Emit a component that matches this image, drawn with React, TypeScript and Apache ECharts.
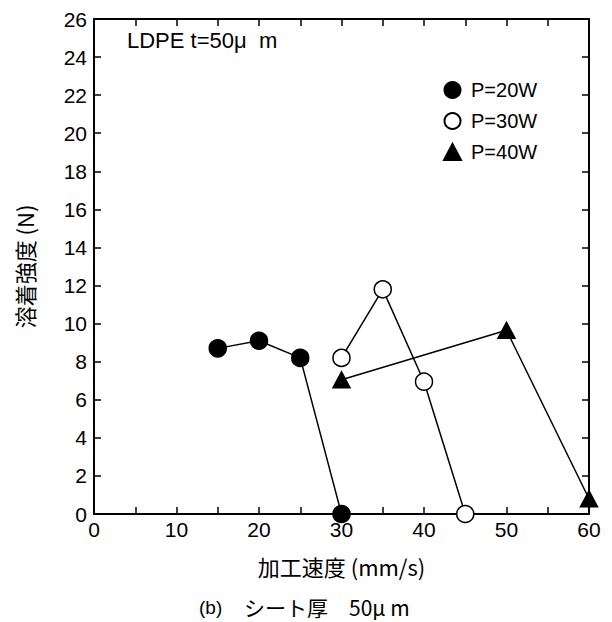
import React, { useEffect, useRef } from "react";
import * as echarts from "echarts";

const p20: [number, number][] = [[15, 8.7], [20, 9.1], [25, 8.2], [30, 0]];
const p30: [number, number][] = [[30, 8.2], [35, 11.8], [40, 6.95], [45, 0]];
const p40: [number, number][] = [[30, 7.05], [50, 9.65], [60, 0.8]];
const seriesNames = ["P=20W", "P=30W", "P=40W"];

const FONT = "'Liberation Sans', Arial, 'Noto Sans CJK JP', sans-serif";
const CJK = "'Noto Sans CJK JP', 'Liberation Sans', sans-serif";

export default function App() {
  const ref = useRef<HTMLDivElement>(null);
  useEffect(() => {
    document.body.style.margin = "0";
    const chart = echarts.init(ref.current!, null, { renderer: "svg" });
    const axisLine = { show: true, onZero: false, lineStyle: { color: "#000", width: 2 } };
    const tickIn = { show: true, inside: true, length: 7, lineStyle: { color: "#000", width: 1.5 } };
    const mk = (name: string, data: [number, number][], symbol: string, fill: string) => ({
      name,
      type: "line",
      data,
      symbol,
      symbolSize: symbol === "triangle" ? [17, 16] : 17,
      lineStyle: { color: "#000", width: 1.5 },
      itemStyle: { color: fill, borderColor: "#000", borderWidth: 1.5 },
      z: 3,
    });
    chart.setOption({
      animation: false,
      textStyle: { fontFamily: FONT },
      grid: { left: 94, right: 23, top: 19, bottom: 108 },
      legend: {
        orient: "vertical",
        left: 443,
        top: 80,
        padding: 0,
        itemGap: 11,
        itemWidth: 17,
        itemHeight: 16,
        textStyle: { fontSize: 20, color: "#000", fontFamily: FONT, padding: [0, 0, 0, 5] },
        data: [
          { name: seriesNames[0], icon: "circle" },
          { name: seriesNames[1], icon: "circle" },
          { name: seriesNames[2], icon: "triangle" },
        ],
      },
      xAxis: [
        {
          type: "value",
          min: 0,
          max: 60,
          interval: 5,
          name: "加工速度 (mm/s)",
          nameLocation: "middle",
          nameGap: 41,
          nameTextStyle: { fontSize: 22, color: "#000", fontFamily: CJK },
          axisLine,
          axisTick: tickIn,
          splitLine: { show: false },
          axisLabel: {
            fontSize: 21,
            color: "#000",
            margin: 5,
            formatter: (v: number) => (v % 10 === 0 ? String(v) : ""),
          },
        },
        {
          type: "value",
          position: "top",
          min: 0,
          max: 60,
          interval: 5,
          axisLine,
          axisTick: tickIn,
          axisLabel: { show: false },
          splitLine: { show: false },
        },
      ],
      yAxis: [
        {
          type: "value",
          min: 0,
          max: 26,
          interval: 2,
          name: "溶着強度 (N)",
          nameLocation: "middle",
          nameGap: 59,
          nameTextStyle: { fontSize: 22, color: "#000", fontFamily: CJK },
          axisLine,
          axisTick: tickIn,
          splitLine: { show: false },
          axisLabel: { fontSize: 21, color: "#000", margin: 7 },
        },
        {
          type: "value",
          position: "right",
          min: 0,
          max: 26,
          interval: 2,
          axisLine,
          axisTick: tickIn,
          axisLabel: { show: false },
          splitLine: { show: false },
        },
      ],
      graphic: [
        {
          type: "text",
          x: 127,
          y: 40,
          style: {
            text: "LDPE t=50μ  m",
            fontSize: 22,
            fill: "#000",
            fontFamily: FONT,
            verticalAlign: "middle",
          },
        },
        {
          type: "text",
          x: 199,
          y: 607,
          style: { text: "(b)", fontSize: 19, fill: "#000", fontFamily: FONT, verticalAlign: "middle" },
        },
        {
          type: "text",
          x: 244,
          y: 607,
          style: {
            text: "シート厚　50μ m",
            fontSize: 21,
            fill: "#000",
            fontFamily: CJK,
            verticalAlign: "middle",
          },
        },
      ],
      series: [
        mk(seriesNames[0], p20, "circle", "#000"),
        mk(seriesNames[1], p30, "circle", "#fff"),
        mk(seriesNames[2], p40, "triangle", "#000"),
      ],
    });
    return () => chart.dispose();
  }, []);
  return <div ref={ref} style={{ width: 612, height: 622 }} />;
}
